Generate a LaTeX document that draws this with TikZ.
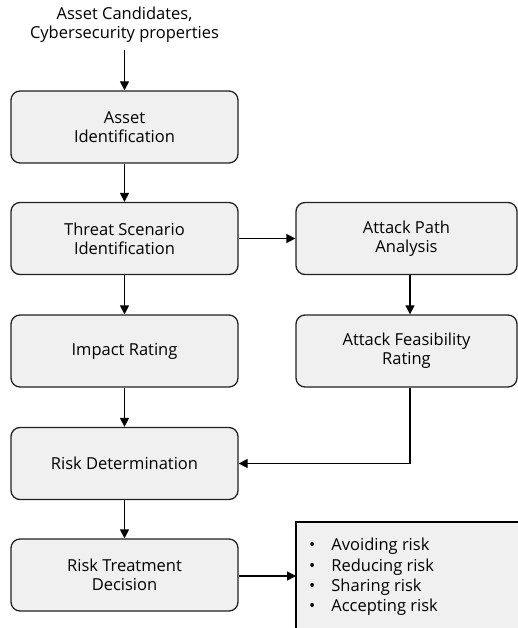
\documentclass[tikz,border=0pt]{standalone}
\usepackage{fontspec}
\setmainfont{Open Sans}
\usetikzlibrary{arrows.meta}
\definecolor{boxfill}{HTML}{F0F0F0}
\definecolor{boxline}{HTML}{222222}
\tikzset{
  procbox/.style={draw=boxline, line width=1.3pt, fill=boxfill, rounded corners=9pt,
    minimum width=227pt, minimum height=72pt, align=center, font=\fontsize{16.5}{19}\selectfont, inner sep=0pt},
  rbox/.style={procbox, minimum width=221pt},
  flow/.style={draw=black, line width=1.3pt, -{Triangle[length=9pt,width=9pt]}},
}
\begin{document}
\begin{tikzpicture}[x=1pt,y=-1pt]
\useasboundingbox (0,0) rectangle (518,628);
\clip (0,0) rectangle (518,628);
\node[align=center, font=\fontsize{16.5}{19}\selectfont, inner sep=0pt] (inp) at (124.5,25) {Asset Candidates,\\Cybersecurity properties};
\coordinate (inpend) at (124.5,50);
\node[procbox] (ai) at (124.5,127) {Asset\\Identification};
\node[procbox] (tsi) at (124.5,238.5) {Threat Scenario\\Identification};
\node[rbox] (apa) at (406.5,238.5) {Attack Path\\Analysis};
\node[procbox] (ir) at (124.5,351) {Impact Rating};
\node[rbox] (afr) at (406.5,351) {Attack Feasibility\\Rating};
\node[procbox] (rd) at (124.5,463.5) {Risk Determination};
\node[procbox] (rtd) at (124.5,575) {Risk Treatment\\Decision};
\draw[draw=black, line width=2.2pt, fill=boxfill] (296,522) rectangle (530,640);
\node[anchor=west, inner sep=0pt, font=\fontsize{16.5}{20.2}\selectfont, align=left] (opts) at (309,577)
  {\textbullet\hspace{16pt}Avoiding risk\\\textbullet\hspace{16pt}Reducing risk\\\textbullet\hspace{16pt}Sharing risk\\\textbullet\hspace{16pt}Accepting risk};
\coordinate (optsin) at (296,576);
\draw[flow] (inpend) -- (ai.north);
\draw[flow] (ai) -- (tsi);
\draw[flow] (tsi) -- (apa);
\draw[flow] (tsi) -- (ir);
\draw[flow] ([xshift=3.5pt]apa.south) -- ([xshift=3.5pt]afr.north);
\draw[flow] (ir) -- (rd);
\draw[flow] ([xshift=3.5pt]afr.south) |- (rd.east);
\draw[flow] (rtd.east |- optsin) -- (optsin);
\draw[flow] (rd) -- (rtd);
\end{tikzpicture}
\end{document}
